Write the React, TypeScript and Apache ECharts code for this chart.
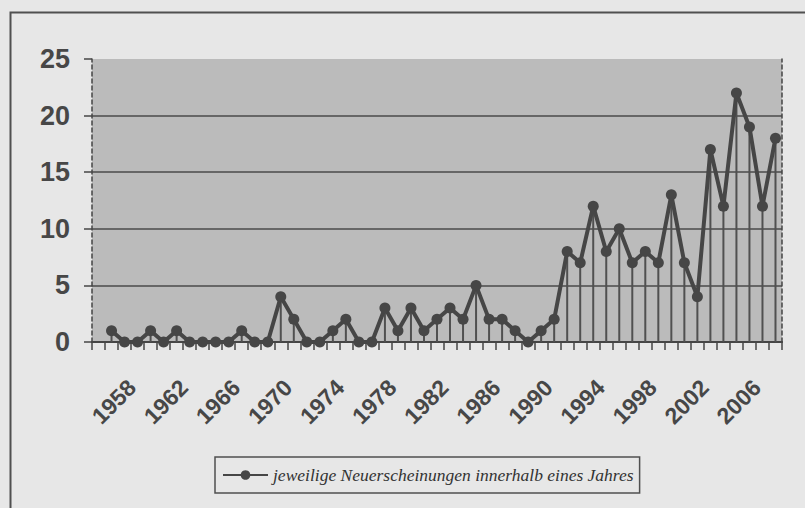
import React, { useEffect, useRef } from "react";
import * as echarts from "echarts";

const years: string[] = [];
for (let y = 1955; y <= 2007; y++) years.push(String(y));

// 1955 has no value; 1956–2007
const releases: (number | null)[] = [
  null,
  1, 0, 0, 1, 0, 1, 0, 0, 0, 0,
  1, 0, 0, 4, 2, 0, 0, 1, 2, 0,
  0, 3, 1, 3, 1, 2, 3, 2, 5, 2,
  2, 1, 0, 1, 2, 8, 7, 12, 8, 10,
  7, 8, 7, 13, 7, 4, 17, 12, 22, 19,
  12, 18,
];

const yTicks = { min: 0, max: 25, interval: 5 };
const seriesName = "jeweilige Neuerscheinungen innerhalb eines Jahres";

export default function App() {
  const ref = useRef<HTMLDivElement>(null);
  useEffect(() => {
    if (!ref.current) return;
    const chart = echarts.init(ref.current, undefined, { renderer: "svg" });
    const dark = "#464646";
    const dash = [4, 3];
    chart.setOption({
      animation: false,
      backgroundColor: "#e7e7e7",
      graphic: [
        {
          type: "rect",
          left: 8,
          top: 10,
          shape: { width: 900, height: 600 },
          style: { fill: "none", stroke: "#505050", lineWidth: 2 },
          silent: true,
        },
      ],
      grid: {
        left: 92,
        right: 23,
        top: 59,
        bottom: 166,
        show: true,
        backgroundColor: "#bbbbbb",
        borderWidth: 0,
      },
      legend: {
        data: [seriesName],
        left: 215,
        top: 457,
        padding: [8, 6, 8, 7],
        borderColor: "#505050",
        borderWidth: 1.5,
        itemWidth: 45,
        itemHeight: 12,
        itemGap: 4,
        textStyle: {
          fontFamily: "Liberation Serif",
          fontStyle: "italic",
          fontSize: 17.5,
          color: "#333",
          lineHeight: 20,
        },
      },
      xAxis: [
        {
          type: "category",
          data: years,
          boundaryGap: true,
          axisLine: { show: true, lineStyle: { color: dark, width: 2 } },
          axisTick: {
            show: true,
            interval: 0,
            length: 8,
            lineStyle: { color: dark, width: 1.5 },
          },
          axisLabel: {
            interval: (i: number, v: string) => {
              const n = Number(v);
              return n >= 1958 && (n - 1958) % 4 === 0;
            },
            rotate: 45,
            margin: 36,
            padding: [0, 8, 0, 0],
            fontFamily: "Liberation Sans",
            fontWeight: "bold",
            fontSize: 23,
            color: "#474747",
          },
          splitLine: { show: false },
        },
        {
          type: "category",
          data: years,
          position: "top",
          axisLine: { show: true, lineStyle: { color: dark, width: 1.5, type: dash } },
          axisTick: { show: false },
          axisLabel: { show: false },
          splitLine: { show: false },
        },
      ],
      yAxis: [
        {
          type: "value",
          min: yTicks.min,
          max: yTicks.max,
          interval: yTicks.interval,
          axisLine: { show: true, lineStyle: { color: dark, width: 1.5, type: dash } },
          axisTick: { show: true, length: 8, lineStyle: { color: dark, width: 1.5 } },
          axisLabel: {
            margin: 22,
            fontFamily: "Liberation Sans",
            fontWeight: "bold",
            fontSize: 27,
            color: "#474747",
          },
          splitLine: {
            show: true,
            showMinLine: false,
            showMaxLine: false,
            lineStyle: { color: "#4a4a4a", width: 1.5 },
          },
        },
        {
          type: "value",
          position: "right",
          min: yTicks.min,
          max: yTicks.max,
          interval: yTicks.interval,
          axisLine: { show: true, lineStyle: { color: dark, width: 1.5, type: dash } },
          axisTick: { show: false },
          axisLabel: { show: false },
          splitLine: { show: false },
        },
      ],
      series: [
        {
          name: "drop",
          type: "bar",
          data: releases,
          barWidth: 2,
          itemStyle: { color: "#505050" },
          silent: true,
          z: 2,
        },
        {
          name: seriesName,
          type: "line",
          data: releases,
          symbol: "circle",
          symbolSize: 11,
          showAllSymbol: true,
          lineStyle: { color: dark, width: 4 },
          itemStyle: { color: dark },
          z: 3,
        },
      ],
    });
    return () => chart.dispose();
  }, []);
  return (
    <div
      ref={ref}
      style={{ position: "fixed", left: 0, top: 0, width: 805, height: 508 }}
    />
  );
}
